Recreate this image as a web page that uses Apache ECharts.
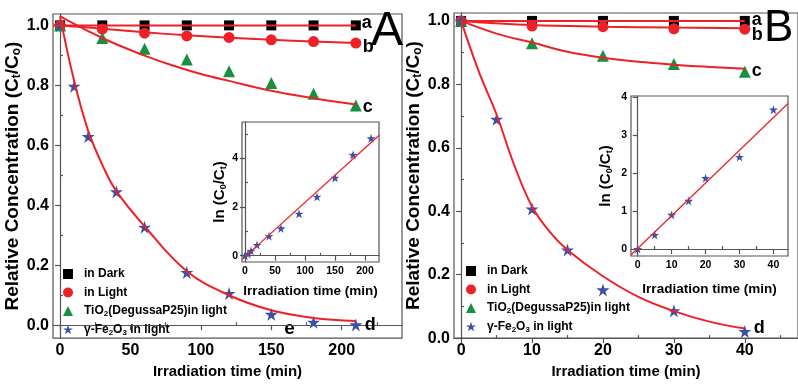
<!DOCTYPE html>
<html>
<head>
<meta charset="utf-8">
<script src="https://cdn.jsdelivr.net/npm/echarts@6/dist/echarts.min.js"></script>
<style>
  html, body { margin: 0; padding: 0; background: #fff; }
  #chart { width: 798px; height: 385px; }
</style>
</head>
<body>
<div id="chart"></div>
<script>
// ---------- Panel A: degradation over 210 min ----------
const timeA = [0, 30, 60, 90, 120, 150, 180, 210];
const darkA = [1.0, 1.0, 1.0, 1.0, 1.0, 1.0, 1.0, 1.0];
const lightA = [1.0, 0.988, 0.974, 0.965, 0.96, 0.952, 0.946, 0.941];
const tio2A = [1.0, 0.958, 0.922, 0.886, 0.847, 0.808, 0.772, 0.733];
const timeFeA = [0, 10, 20, 40, 60, 90, 120, 150, 180, 210];
const feA = [1.0, 0.797, 0.629, 0.445, 0.327, 0.176, 0.106, 0.036, 0.01, 0.001];

// fitted curves, panel A
const fitDarkTimeA = [-5, 210];
const fitDarkA = [1.0, 1.0];
const fitLightTimeA = [0, 30, 60, 90, 120, 150, 180, 210];
const fitLightA = [1.0, 0.989, 0.977, 0.967, 0.959, 0.952, 0.946, 0.941];
const fitTio2TimeA = [0, 10, 20, 30, 40, 60, 80, 100, 120, 150, 180, 210];
const fitTio2A = [1.031, 1.005, 0.981, 0.958, 0.937, 0.899, 0.866, 0.838, 0.815, 0.782, 0.757, 0.736];
const fitFeTimeA = [0, 10, 20, 30, 40, 60, 90, 120, 150, 180, 210];
const fitFeA = [1.03, 0.815, 0.648, 0.535, 0.447, 0.33, 0.18, 0.1, 0.05, 0.024, 0.014];

// ln(C0/Ct) inset, panel A
const timeLnA = [0, 5, 10, 20, 40, 60, 90, 120, 150, 180, 210];
const lnA = [0, 0.07, 0.2, 0.44, 0.8, 1.12, 1.72, 2.42, 3.2, 4.14, 4.82];
const fitLnTimeA = [-3, 224];
const fitLnA = [-0.11, 4.96];

// ---------- Panel B: degradation over 40 min ----------
const timeB = [0, 10, 20, 30, 40];
const darkB = [1.0, 1.0, 1.0, 1.0, 1.0];
const lightB = [1.0, 0.984, 0.982, 0.975, 0.974];
const tio2B = [1.0, 0.93, 0.89, 0.864, 0.84];
const timeFeB = [0, 5, 10, 15, 20, 30, 40];
const feB = [1.0, 0.69, 0.407, 0.278, 0.152, 0.086, 0.021];

const fitDarkTimeB = [0, 40];
const fitDarkB = [1.0, 1.0];
const fitLightTimeB = [0, 10, 20, 30, 40];
const fitLightB = [1.0, 0.987, 0.982, 0.979, 0.977];
const fitTio2TimeB = [0, 5, 10, 15, 20, 25, 30, 35, 40];
const fitTio2B = [1.0, 0.96, 0.932, 0.903, 0.884, 0.871, 0.862, 0.855, 0.849];
const fitFeTimeB = [0, 2.5, 5, 7.5, 10, 12.5, 15, 20, 25, 30, 35, 40];
const fitFeB = [1.0, 0.84, 0.705, 0.545, 0.415, 0.335, 0.278, 0.195, 0.13, 0.085, 0.052, 0.03];

const timeLnB = [0, 5, 10, 15, 20, 30, 40];
const lnB = [0, 0.37, 0.9, 1.27, 1.87, 2.43, 3.68];
const fitLnTimeB = [-2, 44.3];
const fitLnB = [-0.16, 3.84];

// tick labels
const ticksTimeA = [0, 50, 100, 150, 200];
const ticksTimeB = [0, 10, 20, 30, 40];
const ticksConc = [0, 0.2, 0.4, 0.6, 0.8, 1.0];
const ticksLnA = [0, 2, 4];
const ticksLnB = [0, 1, 2, 3, 4];

const seriesNames = ['in Dark', 'in Light', 'TiO2(DegussaP25)in light', 'γ-Fe2O3 in light'];

// ---------- styling ----------
const FONT = 'Liberation Sans, Arial, sans-serif';
const FRAME = '#555';
const RED = '#ee2127';
const GREEN = '#17913f';
const BLUE = '#3b51a3';
const STAR = 'path://M50,2 L61.2,36.4 L97.6,36.4 L68.2,57.8 L79.4,92.2 L50,71 L20.6,92.2 L31.8,57.8 L2.4,36.4 L38.8,36.4 Z';

const zip = (xs, ys) => xs.map((x, i) => [x, ys[i]]);
const halfSteps = (majors, step) => majors.map(v => v + step / 2);

function subRich(size, lh) {
  return {
    s: { fontSize: size, fontWeight: 'bold', fontFamily: FONT, color: '#000',
         verticalAlign: 'bottom', lineHeight: lh }
  };
}

function majorAxis(gridIndex, min, max, values, fmt, fontSize, name, nameSize, nameGap, isY) {
  return {
    type: 'value', gridIndex, min, max,
    name, nameLocation: 'middle', nameGap, nameRotate: isY ? 90 : 0,
    nameTextStyle: { fontSize: nameSize, fontWeight: 'bold', fontFamily: FONT, color: '#000',
                     lineHeight: nameSize + 2, rich: subRich(Math.round(nameSize * 0.62), nameSize - 2) },
    axisLine: { show: true, lineStyle: { color: FRAME, width: 1.2 } },
    axisTick: { show: true, customValues: values, length: 5, lineStyle: { color: FRAME, width: 1.2 } },
    axisLabel: { show: true, customValues: values, formatter: fmt, fontSize, fontWeight: 'bold',
                 fontFamily: FONT, color: '#000', margin: 4 },
    splitLine: { show: false }
  };
}

function minorAxis(gridIndex, min, max, values) {
  return {
    type: 'value', gridIndex, min, max,
    axisLine: { show: false },
    axisTick: { show: values.length > 0, customValues: values, length: 3, lineStyle: { color: FRAME, width: 1.2 } },
    axisLabel: { show: false },
    splitLine: { show: false }
  };
}

const intFmt = v => String(Math.round(v));
const oneDec = v => v.toFixed(1);

// each grid g owns axes 2g (labelled major ticks) and 2g+1 (minor ticks)
const xAxes = [
  majorAxis(0, -5, 242.8, ticksTimeA, intFmt, 16, 'Irradiation time (min)', 15, 23, false),
  minorAxis(0, -5, 242.8, halfSteps(ticksTimeA, 50)),
  majorAxis(1, -5, 223.3, ticksTimeA, intFmt, 10.5, 'Irradiation time (min)', 13.5, 22, false),
  minorAxis(1, -5, 223.3, halfSteps(ticksTimeA, 50).slice(0, 4)),
  majorAxis(2, -1, 47.5, ticksTimeB, intFmt, 16, 'Irradiation time (min)', 15, 23, false),
  minorAxis(2, -1, 47.5, halfSteps(ticksTimeB, 10)),
  majorAxis(3, -1.98, 44.3, ticksTimeB, intFmt, 10.5, 'Irradiation time (min)', 13.5, 26, false),
  minorAxis(3, -1.98, 44.3, halfSteps(ticksTimeB, 10).slice(0, 4))
];

const concName = 'Relative Concentration (C{s|t}/C{s|o})';
const lnName = 'ln (C{s|0}/C{s|t})';
const yAxes = [
  majorAxis(0, -0.043, 1.038, ticksConc, oneDec, 16, concName, 19, 21, true),
  minorAxis(0, -0.043, 1.038, halfSteps(ticksConc, 0.2).slice(0, 5)),
  majorAxis(1, -0.259, 5.49, ticksLnA, intFmt, 10.5, lnName, 15, 11, true),
  minorAxis(1, -0.259, 5.49, halfSteps(ticksLnA, 2)),
  majorAxis(2, 0, 1.025, ticksConc, oneDec, 16, concName, 19, 19, true),
  minorAxis(2, 0, 1.025, halfSteps(ticksConc, 0.2).slice(0, 5)),
  majorAxis(3, -0.185, 4.04, ticksLnB, intFmt, 10.5, lnName, 15, 17, true),
  minorAxis(3, -0.185, 4.04, [])
];

const grids = [
  { left: 53, top: 14, width: 349, height: 326 },
  { left: 242, top: 122, width: 137, height: 140 },
  { left: 454, top: 13, width: 346, height: 327 },
  { left: 631, top: 96, width: 157, height: 160 }
].map(g => Object.assign({ show: true, borderColor: FRAME, borderWidth: 1.2, backgroundColor: '#fff' }, g));

const letterStyle = { fontSize: 18, fontWeight: 'bold', fontFamily: FONT, color: '#000' };

function markers(name, grid, xs, ys, symbol, size, color) {
  return {
    type: 'scatter', name, xAxisIndex: 2 * grid, yAxisIndex: 2 * grid,
    data: zip(xs, ys), symbol, symbolSize: size,
    itemStyle: { color, opacity: 1 }, z: 3
  };
}

function fit(grid, xs, ys, width, letter, offset) {
  const s = {
    type: 'line', xAxisIndex: 2 * grid, yAxisIndex: 2 * grid,
    data: zip(xs, ys), smooth: 0.4, showSymbol: false, symbol: 'none',
    lineStyle: { color: RED, width }, z: 4, silent: true
  };
  if (letter) {
    s.endLabel = Object.assign({ show: true, formatter: letter, offset }, letterStyle);
  }
  return s;
}

const series = [
  // panel A
  markers(seriesNames[0], 0, timeA, darkA, 'rect', 10, '#000'),
  markers(seriesNames[1], 0, timeA, lightA, 'circle', 11, RED),
  markers(seriesNames[2], 0, timeA, tio2A, 'triangle', 12, GREEN),
  markers(seriesNames[3], 0, timeFeA, feA, STAR, 13, BLUE),
  fit(0, fitDarkTimeA, fitDarkA, 2, 'a', [-2, -2]),
  fit(0, fitLightTimeA, fitLightA, 2, 'b', [-1, 4]),
  fit(0, fitTio2TimeA, fitTio2A, 2, 'c', [-1, 2]),
  fit(0, fitFeTimeA, fitFeA, 2, 'd', [1, 4]),
  markers(seriesNames[3], 1, timeLnA, lnA, STAR, 9, BLUE),
  fit(1, fitLnTimeA, fitLnA, 1.3),
  // panel B
  markers(seriesNames[0], 2, timeB, darkB, 'rect', 10, '#000'),
  markers(seriesNames[1], 2, timeB, lightB, 'circle', 11, RED),
  markers(seriesNames[2], 2, timeB, tio2B, 'triangle', 12, GREEN),
  markers(seriesNames[3], 2, timeFeB, feB, STAR, 13, BLUE),
  fit(2, fitDarkTimeB, fitDarkB, 2, 'a', [-1, -1]),
  fit(2, fitLightTimeB, fitLightB, 2, 'b', [-1, 7]),
  fit(2, fitTio2TimeB, fitTio2B, 2, 'c', [-1, 2]),
  fit(2, fitFeTimeB, fitFeB, 2, 'd', [1, -1]),
  markers(seriesNames[3], 3, timeLnB, lnB, STAR, 9, BLUE),
  fit(3, fitLnTimeB, fitLnB, 1.3)
];

const legendRich = {
  s: { fontSize: 8, fontWeight: 'bold', fontFamily: FONT, color: '#000', verticalAlign: 'bottom', lineHeight: 9 }
};
const legendLabel = name => name
  .replace('TiO2', 'TiO{s|2}')
  .replace('Fe2O3', 'Fe{s|2}O{s|3}');

function legend(left, top) {
  return {
    left, top, orient: 'vertical', itemWidth: 10, itemHeight: 10, itemGap: 4.5,
    data: [
      { name: seriesNames[0], icon: 'rect' },
      { name: seriesNames[1], icon: 'circle' },
      { name: seriesNames[2], icon: 'triangle' },
      { name: seriesNames[3], icon: STAR }
    ],
    formatter: legendLabel,
    textStyle: { fontSize: 12, fontWeight: 'bold', fontFamily: FONT, color: '#000', lineHeight: 14,
                 padding: [0, 0, 0, 6], rich: legendRich },
    selectedMode: false
  };
}

const chart = echarts.init(document.getElementById('chart'), null, { renderer: 'canvas' });
chart.setOption({
  animation: false,
  backgroundColor: '#fff',
  grid: grids,
  xAxis: xAxes,
  yAxis: yAxes,
  legend: [legend(58, 262), legend(461, 259)],
  series
});

// panel letters and the "e" annotation on curve d
const ePos = chart.convertToPixel({ xAxisIndex: 0, yAxisIndex: 0 }, [163, -0.012]);
chart.setOption({
  graphic: [
    { type: 'text', left: 371, top: 8, style: { text: 'A', fontSize: 48, fontFamily: FONT, fill: '#000' } },
    { type: 'text', left: 764, top: 7, style: { text: 'B', fontSize: 44, fontFamily: FONT, fill: '#000' } },
    { type: 'text', x: ePos[0], y: ePos[1], style: Object.assign({ text: 'e', align: 'center', verticalAlign: 'middle', fill: '#000' }, letterStyle, { fontSize: 19 }) }
  ]
});
</script>
</body>
</html>
